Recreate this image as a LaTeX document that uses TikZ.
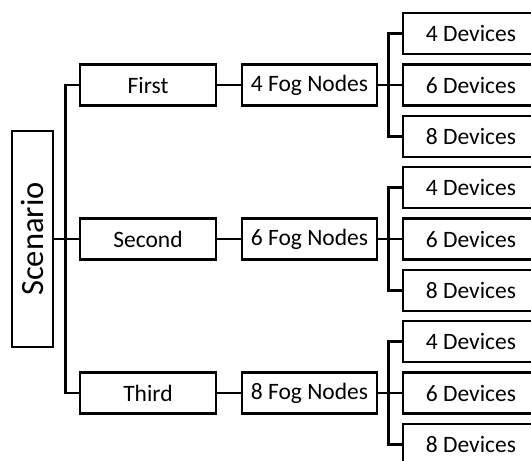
\documentclass[tikz,border=0pt]{standalone}
\usepackage{fontspec}
\setmainfont{Carlito}
\begin{document}
\begin{tikzpicture}[x=1pt,y=-1pt,
  box/.style={draw=black,fill=white,line width=2.6pt,inner sep=0pt,
    minimum height=41pt,font=\fontsize{23.5}{28}\selectfont},
  lvl/.style={box,minimum width=136pt},
  fog/.style={box,minimum width=135pt},
  dev/.style={box,minimum width=136pt},
  wire/.style={line width=2.6pt,line join=miter}]
\useasboundingbox (0,0) rectangle (531,461);
\clip (0,0) rectangle (531,461);

% root
\node[box,minimum width=41pt,minimum height=216pt] (scen) at (32.5,239)
  {\rotatebox{90}{\fontsize{32.5}{38}\selectfont Scenario}};

% scenarios
\node[lvl] (first)  at (148,85)  {First};
\node[lvl] (second) at (148,239) {Second};
\node[lvl] (third)  at (148,393) {Third};

% fog layers
\node[fog] (fogA) at (309.5,85)  {4 Fog Nodes};
\node[fog] (fogB) at (309.5,239) {6 Fog Nodes};
\node[fog] (fogC) at (309.5,393) {8 Fog Nodes};

% device counts
\foreach \g/\cy in {A/85,B/239,C/393}{
  \node[dev] (d\g1) at (471,\cy-51.5) {4 Devices};
  \node[dev] (d\g2) at (471,\cy)      {6 Devices};
  \node[dev] (d\g3) at (471,\cy+51.5) {8 Devices};
}

% trunk from the root
\draw[wire] (first.west) -- ++(-13,0) |- (third.west);
\draw[wire] (scen.east) -- (second.west);

% scenario to fog layer
\draw[wire] (first.east)  -- (fogA.west);
\draw[wire] (second.east) -- (fogB.west);
\draw[wire] (third.east)  -- (fogC.west);

% fog layer to device counts
\foreach \g in {A,B,C}{
  \draw[wire] (d\g1.west) -- ++(-13,0) |- (d\g3.west);
  \draw[wire] (fog\g.east) -- (d\g2.west);
}
\end{tikzpicture}
\end{document}
